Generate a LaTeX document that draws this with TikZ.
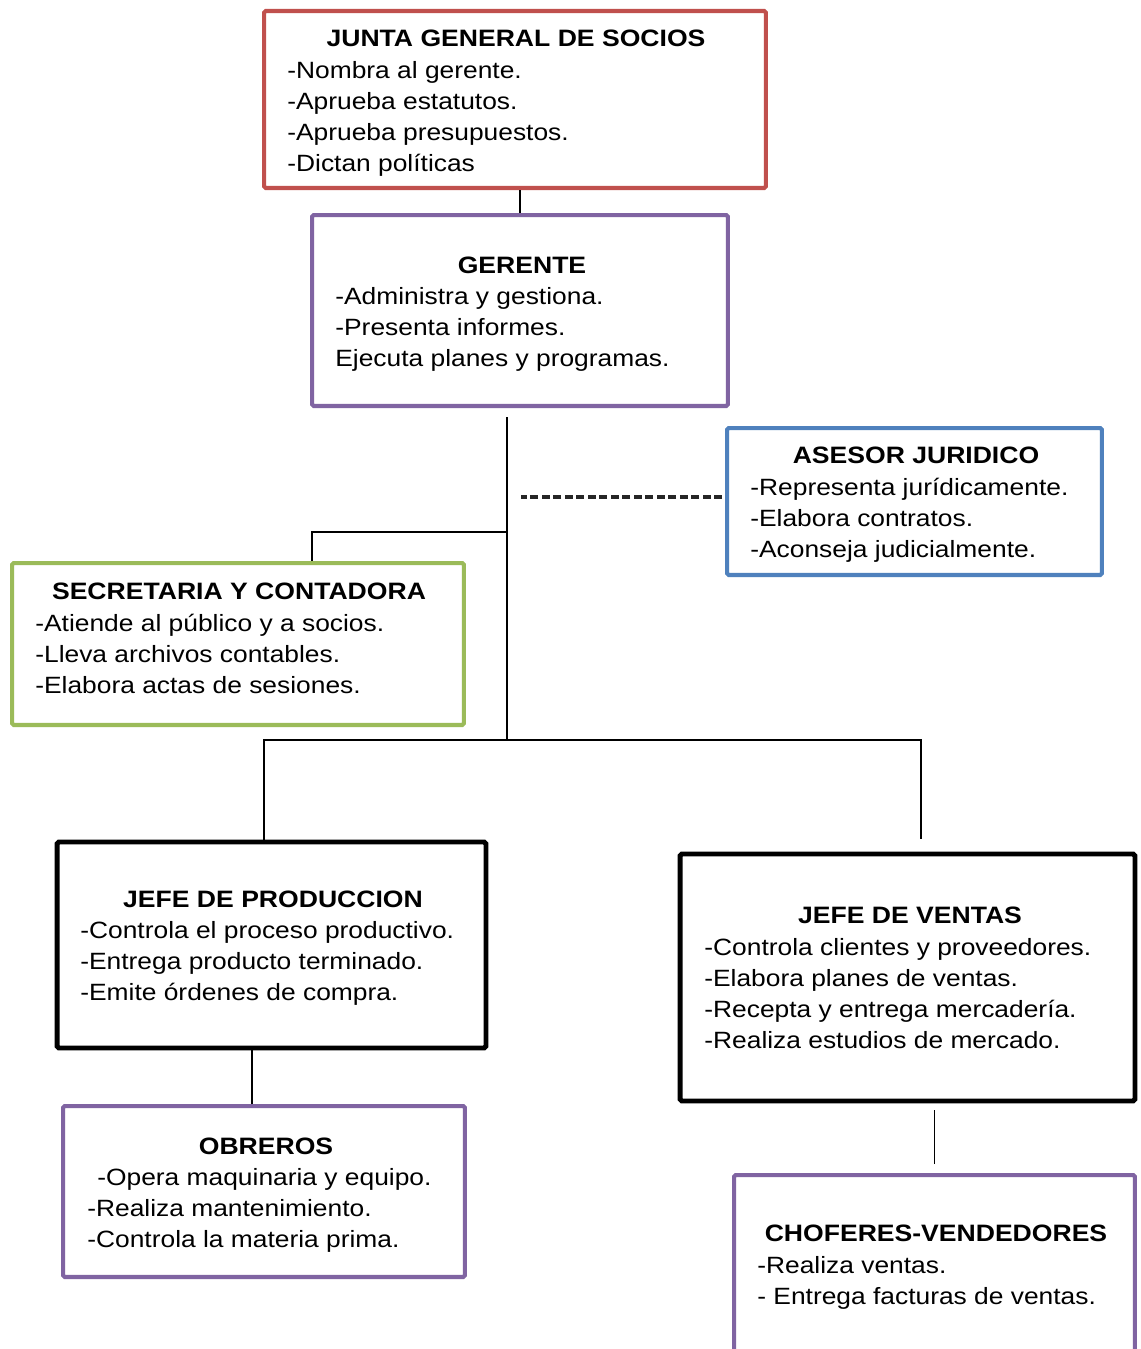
\documentclass[tikz,border=0pt]{standalone}
\usepackage{fontspec}
\setmainfont{Liberation Sans}[FakeStretch=1.12]
\usetikzlibrary{calc}
\definecolor{rojo}{HTML}{C0504D}
\definecolor{morado}{HTML}{8064A2}
\definecolor{azul}{HTML}{4F81BD}
\definecolor{verde}{HTML}{9BBB59}
\definecolor{guion}{HTML}{262626}

\begin{document}
\begin{tikzpicture}[
x = 0.02cm, y = -0.02cm,
font = \fontsize{13.4}{17.6}\selectfont,
cargo/.style={rectangle, draw = #1, line width = 2.3pt, fill = white, rounded corners = 1pt, inner sep = 0pt},
jefe/.style={cargo = black, line width = 2.8pt},
titulo/.style={anchor = base, inner sep = 0pt, font = \fontsize{13.5}{17.6}\selectfont\bfseries},
item/.style={anchor = base west, inner sep = 0pt},
linea/.style={line width = 1.1pt, draw = black},
lineapunt/.style={line width = 2pt, draw = guion, dash pattern = on 0.16cm off 0.07cm}]

\useasboundingbox[fill = white] (0,0) rectangle (1141,1349);
\clip (0,0) rectangle (1141,1349);

\node[cargo = rojo, minimum width = 10.04cm, minimum height = 3.54cm] (junta) at (515,99.5) {};
\node[titulo] (juntatit) at (516,46) {JUNTA GENERAL DE SOCIOS};
\foreach \t [count = \i from 0] in {-Nombra al gerente., -Aprueba estatutos., -Aprueba presupuestos., -Dictan políticas}
  \node[item] (junta-\i) at (287,78+31*\i) {\t};

\node[cargo = morado, minimum width = 8.32cm, minimum height = 3.82cm] (gerente) at (520,310.5) {};
\node[titulo] (gerentetit) at (522,273) {GERENTE};
\foreach \t [count = \i from 0] in {-Administra y gestiona., -Presenta informes., Ejecuta planes y programas.}
  \node[item] (gerente-\i) at (335,304+31*\i) {\t};

\node[cargo = azul, minimum width = 7.5cm, minimum height = 2.94cm] (asesor) at (914.5,501.5) {};
\node[titulo] (asesortit) at (916,463) {ASESOR JURIDICO};
\foreach \t [count = \i from 0] in {-Representa jurídicamente., -Elabora contratos., -Aconseja judicialmente.}
  \node[item] (asesor-\i) at (750,495+31*\i) {\t};

\node[cargo = verde, minimum width = 9.04cm, minimum height = 3.24cm] (secretaria) at (238,644) {};
\node[titulo] (secretariatit) at (239,599) {SECRETARIA Y CONTADORA};
\foreach \t [count = \i from 0] in {-Atiende al público y a socios., -Lleva archivos contables., -Elabora actas de sesiones.}
  \node[item] (secretaria-\i) at (35,631+31*\i) {\t};

\node[jefe, minimum width = 8.58cm, minimum height = 4.12cm] (prod) at (271.5,945) {};
\node[titulo] (prodtit) at (273,907) {JEFE DE PRODUCCION};
\foreach \t [count = \i from 0] in {-Controla el proceso productivo., -Entrega producto terminado., -Emite órdenes de compra.}
  \node[item] (prod-\i) at (80,938+31*\i) {\t};

\node[jefe, minimum width = 9.1cm, minimum height = 4.94cm] (ventas) at (907.5,977.5) {};
\node[titulo] (ventastit) at (910,923) {JEFE DE VENTAS};
\foreach \t [count = \i from 0] in {-Controla clientes y proveedores., -Elabora planes de ventas., -Recepta y entrega mercadería., -Realiza estudios de mercado.}
  \node[item] (ventas-\i) at (704,955+31*\i) {\t};

\node[cargo = morado, minimum width = 8.04cm, minimum height = 3.42cm] (obreros) at (264,1191.5) {};
\node[titulo] (obrerostit) at (266,1154) {OBREROS};
\foreach \t [count = \i from 0] in {\hspace*{0.2cm}-Opera maquinaria y equipo., -Realiza mantenimiento., -Controla la materia prima.}
  \node[item] (obreros-\i) at (87,1185+31*\i) {\t};

\node[cargo = morado, minimum width = 8.02cm, minimum height = 4.5cm] (choferes) at (934.5,1287.5) {};
\node[titulo] (choferestit) at (936,1241) {CHOFERES-VENDEDORES};
\foreach \t [count = \i from 0] in {-Realiza ventas., - Entrega facturas de ventas.}
  \node[item] (choferes-\i) at (757,1273+31*\i) {\t};

% conectores
\draw[linea] (gerente.north) -- (gerente.north |- junta.south);
\coordinate (ramal) at ($(gerente.south)+(-13,9)$);
\coordinate (nudo) at (ramal |- 0,740);
\draw[linea] (ramal) -- (nudo);
\draw[linea] (ramal |- 0,532) -| ($(secretaria.north)+(74,0)$);
\draw[lineapunt] ($(asesor.west)+(-3,-4.5)$) -- ++(-201,0);
\draw[linea] ($(prod.north)+(-7.5,0)$) |- (nudo) -| ($(ventas.north)+(13.5,-13)$);
\draw[linea] ($(obreros.north)+(-12,0)$) -- ($(prod.south)+(-19.5,0)$);
\draw[linea] ($(choferes.north)+(0,-9)$) -- ($(ventas.south -| choferes.north)+(0,7)$);
\end{tikzpicture}
\end{document}
